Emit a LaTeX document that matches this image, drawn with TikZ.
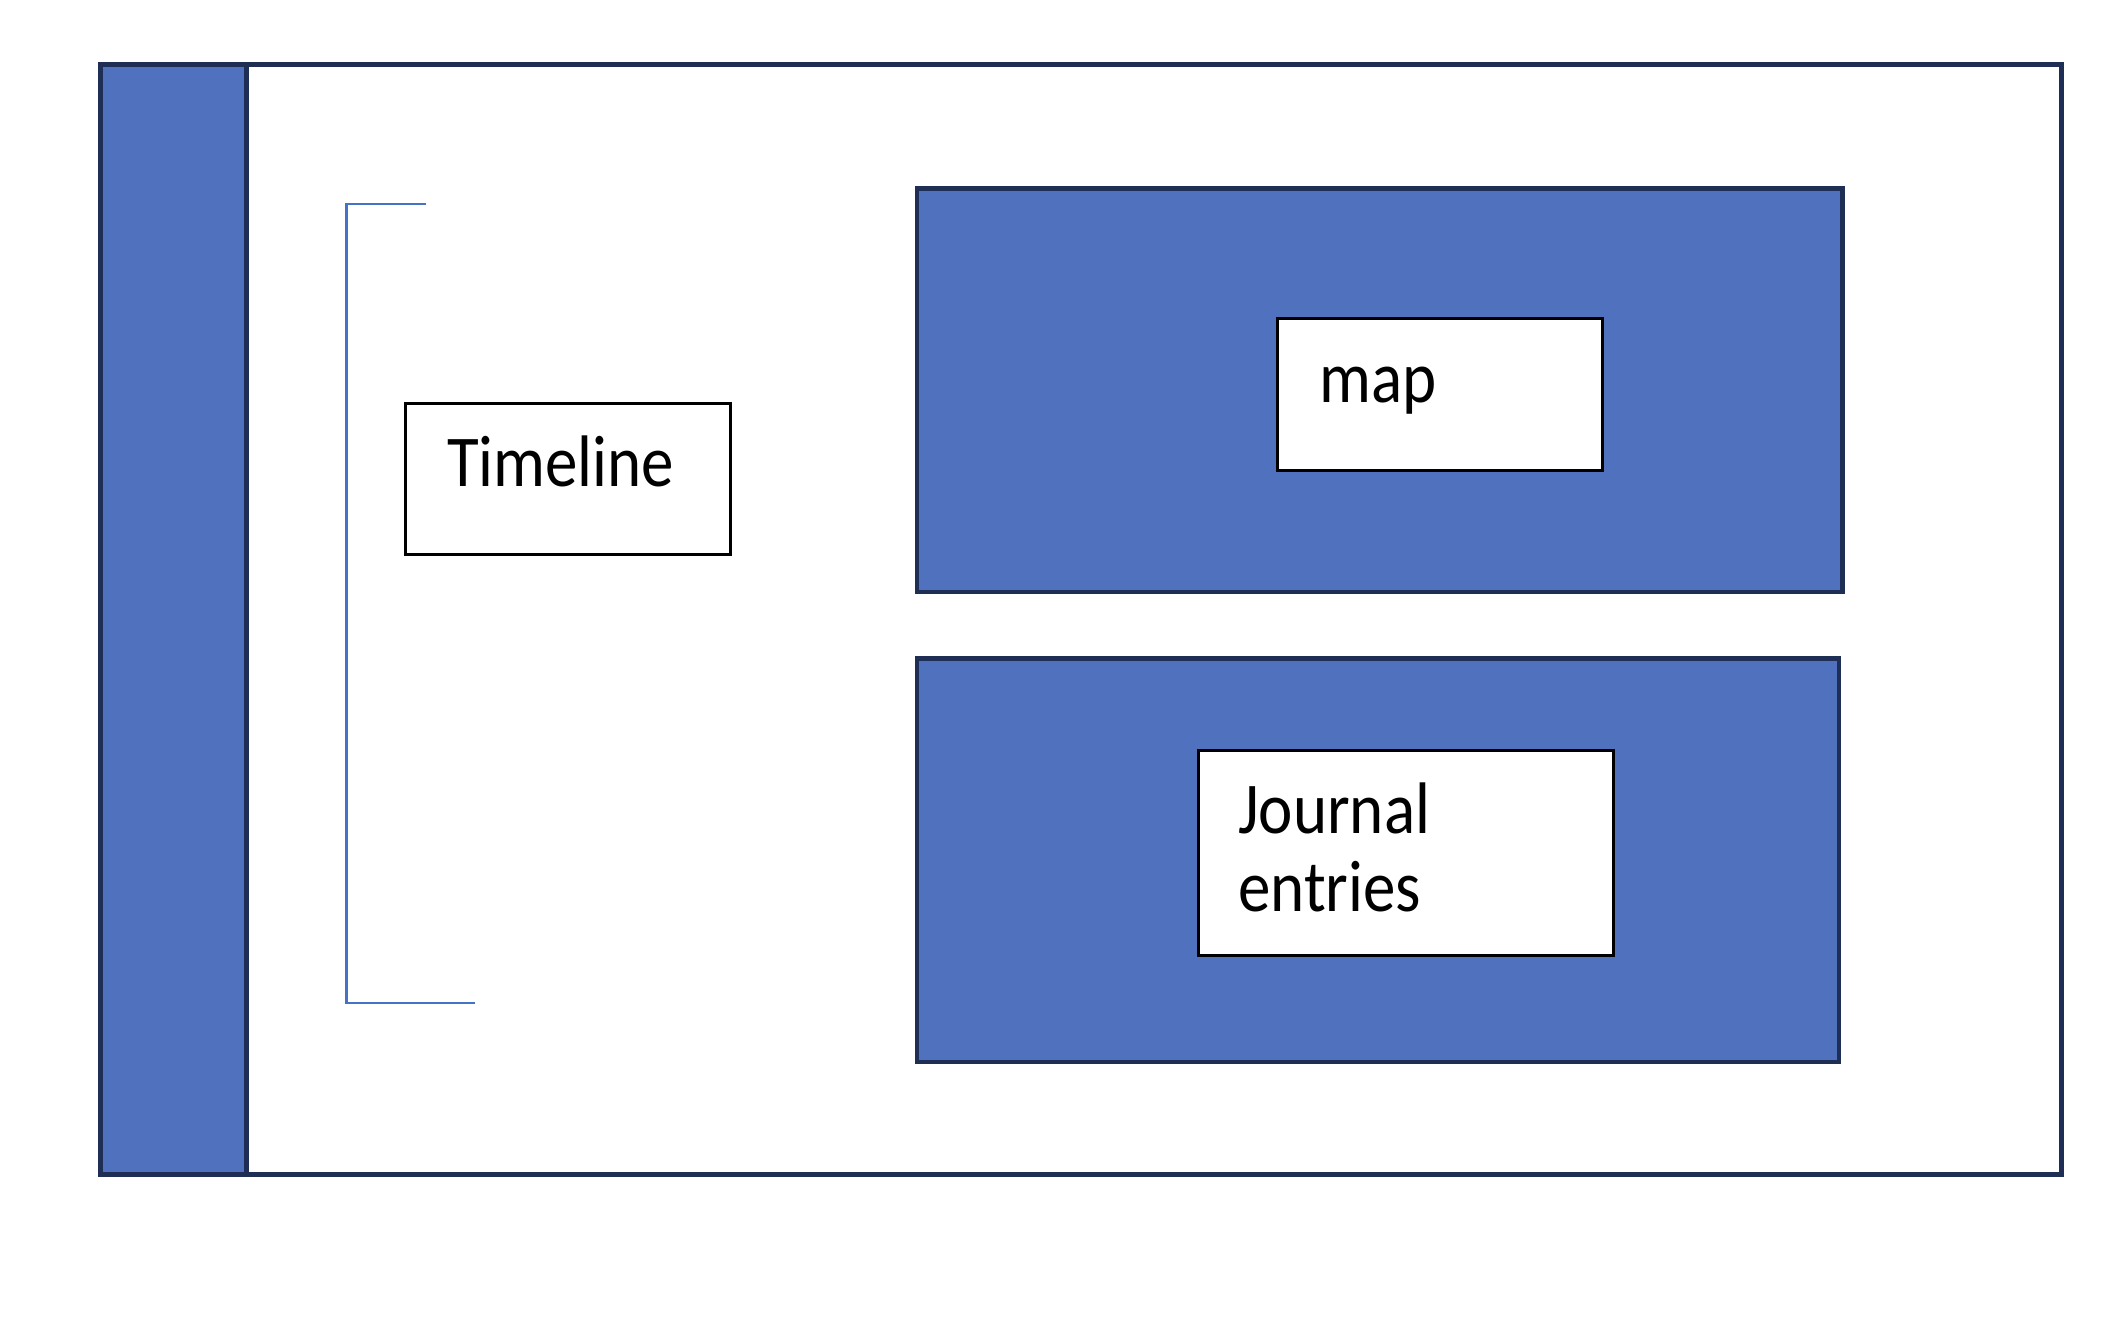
\documentclass[tikz,border=0pt]{standalone}
\usepackage{fontspec}
\setmainfont{Carlito}[FakeStretch=0.89]
\usepackage{xcolor}
\definecolor{navy}{HTML}{1F2E55}
\definecolor{panelblue}{HTML}{5072BE}
\definecolor{bracketblue}{HTML}{4472C4}

\begin{document}
\begin{tikzpicture}[x=1pt,y=-1pt,
	frame/.style={draw=navy,line width=5pt,fill=white,inner sep=0pt,outer sep=0pt,anchor=north west},
	panel/.style={draw=navy,line width=4.5pt,fill=panelblue,inner sep=0pt,outer sep=0pt,anchor=north west},
	whitebox/.style={draw=black,line width=3pt,fill=white,inner sep=0pt,outer sep=0pt,anchor=north west},
	lbl/.style={anchor=base west,inner sep=0pt,align=left,font=\fontsize{73}{78}\selectfont}]
	\useasboundingbox (0,0) rectangle (2106,1318);
	
	\node[frame,minimum width=1961pt,minimum height=1109.5pt] (frame) at (100.5,64.5) {};
	\node[panel,line width=5pt,minimum width=146pt,minimum height=1109.5pt] (sidebar) at (100.5,64.5) {};
	
	\node[panel,minimum width=925.5pt,minimum height=403.5pt] (mappanel) at (917,188.5) {};
	\node[panel,minimum width=922pt,minimum height=403.5pt] (journalpanel) at (917,658.5) {};
	
	\node[whitebox,minimum width=325pt,minimum height=151pt] (timelinebox) at (405,403) {};
	\node[whitebox,minimum width=325.5pt,minimum height=152.5pt] (mapbox) at (1277,318) {};
	\node[whitebox,minimum width=415pt,minimum height=205pt] (journalbox) at (1198,750) {};
	
	\node[lbl] (timeline) at (447,486) {Timeline};
	\node[lbl] (map) at (1319,402) {map};
	\node[lbl] (journal) at (1238,911) {Journal\\entries};
	
	\draw[bracketblue,line width=2.5pt] (426,204) -- (346.5,204) -- (346.5,1003) -- (475,1003);
\end{tikzpicture}
\end{document}
